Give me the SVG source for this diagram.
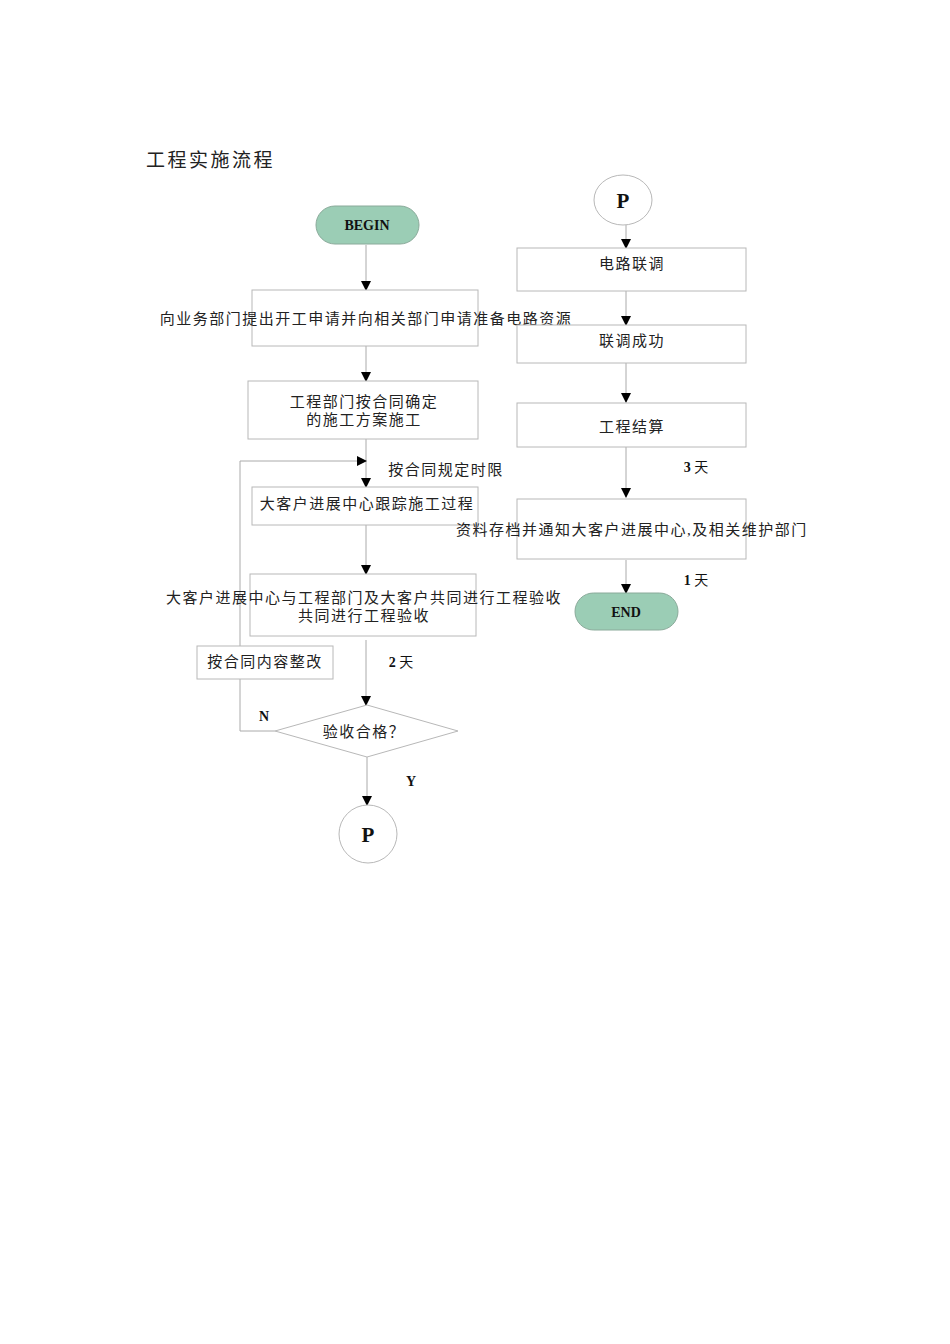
<svg xmlns="http://www.w3.org/2000/svg" width="950" height="1344" viewBox="0 0 950 1344">
<style>
.b{fill:#fff;stroke:#b8b8b8;stroke-width:1}
.t{font-family:"Liberation Serif","Noto Sans CJK SC",serif;font-size:15px;letter-spacing:1.5px;fill:#222;text-anchor:middle}
.s{font-family:"Liberation Serif",serif;font-weight:bold;font-size:14px;fill:#111;text-anchor:middle}
.p{font-size:21px}
.term{fill:#9bcdb5;stroke:#8aaa9a}
.c{fill:none;stroke:#aaa;stroke-width:1}
</style>
<defs><marker id="a" markerWidth="10" markerHeight="10" refX="9" refY="5" orient="auto" markerUnits="userSpaceOnUse"><path d="M0,0 L10,5 L0,10 z" fill="#000"/></marker></defs>
<rect width="950" height="1344" fill="#fff"/>
<text x="146" y="167" font-family="Liberation Serif,Noto Sans CJK SC,serif" font-size="19" letter-spacing="2.5" fill="#222">工程实施流程</text>
<g id="connectors">
<path class="c" d="M366,245 V290" marker-end="url(#a)"/>
<path class="c" d="M366,346 V381" marker-end="url(#a)"/>
<path class="c" d="M366,439 V487" marker-end="url(#a)"/>
<path class="c" d="M366,525 V574" marker-end="url(#a)"/>
<path class="c" d="M366,640 V705" marker-end="url(#a)"/>
<path class="c" d="M367,757 V805" marker-end="url(#a)"/>
<path class="c" d="M275,731 H240 V461 H366" marker-end="url(#a)"/>
<path class="c" d="M626,225 V248" marker-end="url(#a)"/>
<path class="c" d="M626,291 V325" marker-end="url(#a)"/>
<path class="c" d="M626,363 V402" marker-end="url(#a)"/>
<path class="c" d="M626,447 V497" marker-end="url(#a)"/>
<path class="c" d="M626,560 V593" marker-end="url(#a)"/>
</g>
<g id="begin"><rect class="term" x="316" y="206" width="103" height="38" rx="19"/><text class="s" x="367" y="230">BEGIN</text></g>
<g id="n1"><rect class="b" x="252" y="290" width="226" height="56"/><text class="t" x="366" y="324">向业务部门提出开工申请并向相关部门申请准备电路资源</text></g>
<g id="n2"><rect class="b" x="248" y="381" width="230" height="58"/><text class="t" x="364" y="407">工程部门按合同确定</text><text class="t" x="364" y="425">的施工方案施工</text></g>
<text class="t" x="446" y="475">按合同规定时限</text>
<g id="n3"><rect class="b" x="252" y="487" width="226" height="38"/><text class="t" x="367" y="509">大客户进展中心跟踪施工过程</text></g>
<g id="n4"><rect class="b" x="250" y="574" width="226" height="62"/><text class="t" x="364" y="603">大客户进展中心与工程部门及大客户共同进行工程验收</text><text class="t" x="364" y="621">共同进行工程验收</text></g>
<g id="n5"><rect class="b" x="197" y="646" width="136" height="33"/><text class="t" x="265" y="667">按合同内容整改</text></g>
<text class="s" x="401" y="667">2 <tspan font-weight="normal" font-family="Liberation Serif,Noto Sans CJK SC,serif">天</tspan></text>
<g id="dec"><polygon class="b" points="275,731 367,705 458,731 367,757"/><text class="t" x="364" y="737">验收合格？</text></g>
<text class="s" x="264" y="721">N</text>
<text class="s" x="411" y="786">Y</text>
<g id="p1"><circle class="b" cx="368" cy="834" r="29"/><text class="s p" x="368" y="842">P</text></g>
<g id="p2"><ellipse class="b" cx="623" cy="200" rx="29" ry="25"/><text class="s p" x="623" y="208">P</text></g>
<g id="r1"><rect class="b" x="517" y="248" width="229" height="43"/><text class="t" x="632" y="269">电路联调</text></g>
<g id="r2"><rect class="b" x="517" y="325" width="229" height="38"/><text class="t" x="632" y="346">联调成功</text></g>
<g id="r3"><rect class="b" x="517" y="403" width="229" height="44"/><text class="t" x="632" y="432">工程结算</text></g>
<text class="s" x="696" y="472">3 <tspan font-weight="normal" font-family="Liberation Serif,Noto Sans CJK SC,serif">天</tspan></text>
<g id="r4"><rect class="b" x="517" y="499" width="229" height="60"/><text class="t" x="632" y="535">资料存档并通知大客户进展中心,及相关维护部门</text></g>
<text class="s" x="696" y="585">1 <tspan font-weight="normal" font-family="Liberation Serif,Noto Sans CJK SC,serif">天</tspan></text>
<g id="end"><rect class="term" x="575" y="593" width="103" height="37" rx="18.5"/><text class="s" x="626" y="617">END</text></g>
</svg>
